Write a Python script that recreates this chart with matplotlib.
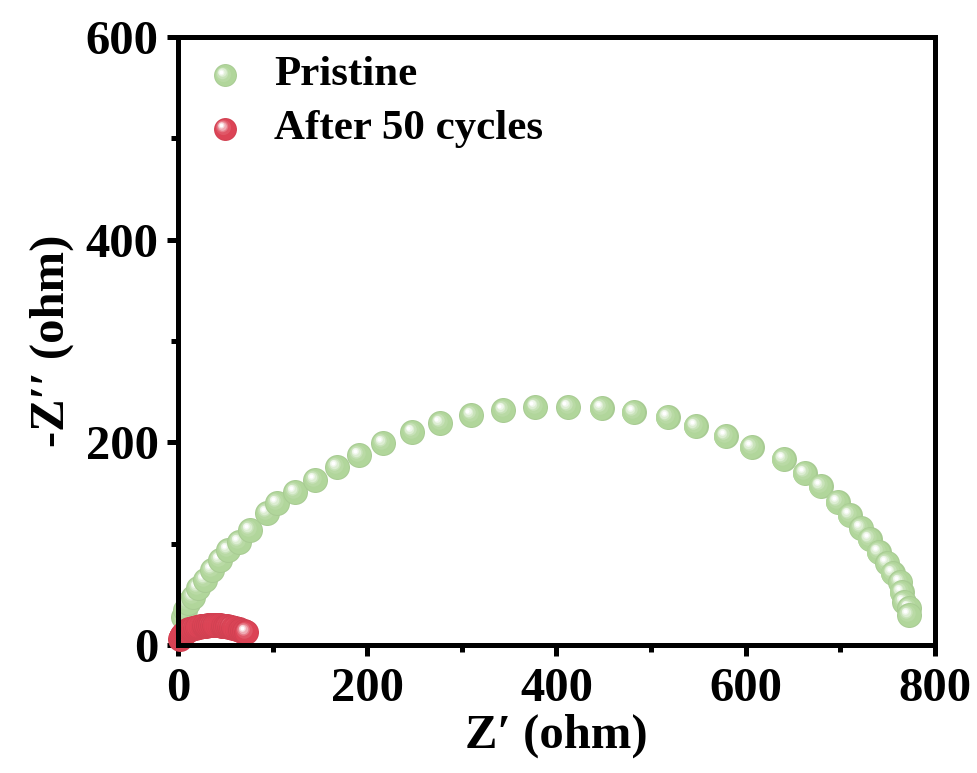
import matplotlib
matplotlib.use("Agg")
import matplotlib.pyplot as plt
import matplotlib.transforms as mtransforms
from matplotlib.colors import to_rgb
import numpy as np

plt.rcParams['font.family'] = ['Liberation Serif', 'DejaVu Serif']
plt.rcParams['font.weight'] = 'bold'

# Nyquist data, pristine cell
pristine_zre = [5.3, 7.4, 10.6, 15.9, 21.2, 28.6, 36.0, 44.4, 52.9, 64.6, 76.2,
                94.2, 104.8, 123.8, 145.0, 168.3, 191.5, 216.9, 247.6, 277.2,
                310.0, 343.9, 377.8, 412.7, 447.6, 481.5, 517.5, 547.1, 578.8,
                606.3, 640.2, 662.4, 679.3, 697.3, 710.0, 721.7, 731.2, 740.7,
                749.2, 755.5, 763.0, 765.0, 767.2, 772.5, 772.5]
pristine_zim = [27.6, 34.5, 41.4, 47.4, 56.2, 64.1, 74.0, 83.9, 93.7, 101.6, 113.4,
                130.2, 140.1, 151.0, 162.8, 175.6, 187.5, 199.3, 210.2, 219.0,
                226.9, 231.9, 234.8, 234.8, 233.8, 229.9, 225.0, 216.1, 206.2,
                195.4, 183.5, 169.7, 156.9, 141.1, 128.3, 115.4, 104.6, 91.8,
                80.9, 71.0, 62.2, 52.3, 42.4, 36.5, 29.6]

# Nyquist data, after 50 cycles
cycled_zre = [2, 3, 4, 5, 6, 7, 8, 9, 10, 12, 14, 16, 18, 20, 22, 24, 26, 28, 30,
              32, 34, 36, 38, 40, 42, 44, 46, 48, 50, 52, 54, 56, 58, 60, 62, 64,
              66, 68, 70, 72]
cycled_zim = [6.0, 8.0, 9.5, 10.8, 11.8, 12.6, 13.3, 13.9, 14.4, 15.3, 16.0, 16.7,
              17.2, 17.7, 18.1, 18.5, 18.8, 19.0, 19.2, 19.4, 19.5, 19.6, 19.6,
              19.6, 19.5, 19.4, 19.2, 19.0, 18.7, 18.4, 18.0, 17.6, 17.2, 16.7,
              16.1, 15.5, 14.8, 14.1, 13.4, 12.7]

series_labels = ["Pristine", "After 50 cycles"]
series_colors = ["#B1D69B", "#DC4456"]
x_ticks = [0, 200, 400, 600, 800]
y_ticks = [0, 200, 400, 600]

fig = plt.figure(figsize=(9.78, 7.73), dpi=100)
ax = fig.add_axes([0.182, 0.1656, 0.774, 0.7864])


def mix(c, w):
    c = np.array(to_rgb(c))
    return tuple(c * (1 - w) + np.ones(3) * w)


def shade(c, k):
    return tuple(np.array(to_rgb(c)) * k)


def sphere(ax, x, y, color, d, trans, z):
    """Draw one glossy ball of diameter d (points) centred at (x, y)."""
    layers = [
        (1.00, 0.00, shade(color, 0.95)),
        (0.92, 0.03, color),
        (0.66, 0.14, mix(color, 0.10)),
        (0.50, 0.22, mix(color, 0.30)),
        (0.38, 0.27, mix(color, 0.55)),
        (0.27, 0.30, mix(color, 0.80)),
        (0.16, 0.32, (1, 1, 1)),
    ]
    for k, (frac, off, col) in enumerate(layers):
        t = mtransforms.offset_copy(trans, fig=ax.figure, x=-off * d / 2,
                                    y=off * d / 2, units='points')
        ax.scatter([x], [y], s=(frac * d) ** 2, color=col, linewidths=0,
                   transform=t, zorder=z + k * 1e-4, clip_on=False)


D = 18.0
z = 3.0
for xv, yv in zip(pristine_zre, pristine_zim):
    sphere(ax, xv, yv, series_colors[0], D, ax.transData, z)
    z += 0.001
for xv, yv in zip(cycled_zre, cycled_zim):
    sphere(ax, xv, yv, series_colors[1], D, ax.transData, z)
    z += 0.001

# Legend entries
leg_y = [0.937, 0.849]
for lab, col, ly in zip(series_labels, series_colors, leg_y):
    sphere(ax, 0.062, ly, col, 16.5, ax.transAxes, 10)
    ax.text(0.127, ly, lab, transform=ax.transAxes, fontsize=31,
            fontweight='bold', va='center', ha='left', zorder=10)

ax.set_xlim(0, 800)
ax.set_ylim(0, 600)
ax.set_xticks(x_ticks)
ax.set_yticks(y_ticks)
ax.set_xticks([100, 300, 500, 700], minor=True)
ax.set_yticks([100, 300, 500], minor=True)

for sp in ax.spines.values():
    sp.set_linewidth(3.6)
    sp.set_zorder(20)
ax.tick_params(which='major', direction='out', length=8, width=3.6,
               labelsize=35, top=False, right=False)
ax.tick_params(axis='x', which='major', pad=8)
ax.tick_params(axis='y', which='major', pad=6)
ax.tick_params(which='minor', direction='out', length=5, width=3.6,
               top=False, right=False)
for lbl in ax.get_xticklabels() + ax.get_yticklabels():
    lbl.set_fontweight('bold')

ax.set_xlabel("Z\u2032 (ohm)", fontsize=35, fontweight='bold', labelpad=2)
ax.set_ylabel("-Z\u2032\u2032 (ohm)", fontsize=35, fontweight='bold', labelpad=8)

fig.savefig("out.png", dpi=100)
